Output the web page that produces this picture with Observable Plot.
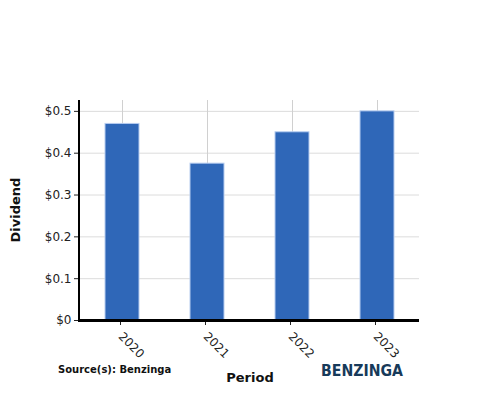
<!DOCTYPE html>
<html>
<head>
<meta charset="utf-8">
<script src="https://cdn.jsdelivr.net/npm/d3@7"></script>
<script src="https://cdn.jsdelivr.net/npm/@observablehq/plot@0.6"></script>
<style>
  body { margin: 0; background: #fff; }
  #chart { position: relative; width: 500px; height: 400px; }
  svg { font-family: "DejaVu Sans", sans-serif; }
</style>
</head>
<body>
<div id="chart"></div>
<script>
const periods = ["2020", "2021", "2022", "2023"];
const dividends = [0.47, 0.375, 0.45, 0.5];
const yTicks = [0, 0.1, 0.2, 0.3, 0.4, 0.5];

const data = periods.map((p, i) => ({period: p, dividend: dividends[i]}));

const plot = Plot.plot({
  width: 500,
  height: 400,
  marginLeft: 79,
  marginRight: 81,
  marginTop: 100,
  marginBottom: 80,
  style: {fontFamily: "DejaVu Sans, sans-serif", fontSize: "12px", color: "#222"},
  x: {domain: periods, paddingInner: 0.6, paddingOuter: 0.3, label: null},
  y: {domain: [0, 0.526], label: null},
  marks: [
    Plot.gridY(yTicks, {stroke: "#dcdcdc", strokeOpacity: 1}),
    Plot.gridX(periods, {stroke: "#d0d0d0", strokeOpacity: 1}),
    Plot.barY(data, {x: "period", y: "dividend", fill: "#2f67b8", stroke: "#b7cdf0", strokeWidth: 1}),
    Plot.axisY(yTicks, {tickFormat: d => "$" + d3.format("~g")(d), tickSize: 5, fontSize: 12, color: "#222", label: null, tickPadding: 3}),
    Plot.axisX(periods, {tickSize: 5, tickRotate: 45, fontSize: 12, textAnchor: "start", tickPadding: 9, dx: -2, label: null})
  ]
});

const svg = d3.select(plot);
const ys = plot.scale("y");
svg.append("line").attr("x1", 79).attr("x2", 79).attr("y1", 100).attr("y2", 321)
  .attr("stroke", "#000").attr("stroke-width", 2);
svg.append("line").attr("x1", 78).attr("x2", 419).attr("y1", ys.apply(0) + 0.5).attr("y2", ys.apply(0) + 0.5)
  .attr("stroke", "#000").attr("stroke-width", 3);

svg.append("text").attr("transform", "translate(20,210) rotate(-90)")
  .attr("text-anchor", "middle").attr("font-weight", "bold").attr("font-size", 13).attr("fill", "#111")
  .text("Dividend");
svg.append("text").attr("x", 250).attr("y", 382)
  .attr("text-anchor", "middle").attr("font-weight", "bold").attr("font-size", 13).attr("fill", "#111")
  .text("Period");
svg.append("text").attr("x", 58).attr("y", 373).attr("text-anchor", "start")
  .attr("font-weight", "bold").attr("font-size", 10).attr("fill", "#111")
  .text("Source(s): Benzinga");
svg.append("text").attr("x", 321).attr("y", 376).attr("text-anchor", "start")
  .attr("font-weight", "bold").attr("font-size", 15).attr("fill", "#173a5a")
  .attr("textLength", 82).attr("lengthAdjust", "spacingAndGlyphs")
  .text("BENZINGA");

document.getElementById("chart").append(plot);
</script>
</body>
</html>
